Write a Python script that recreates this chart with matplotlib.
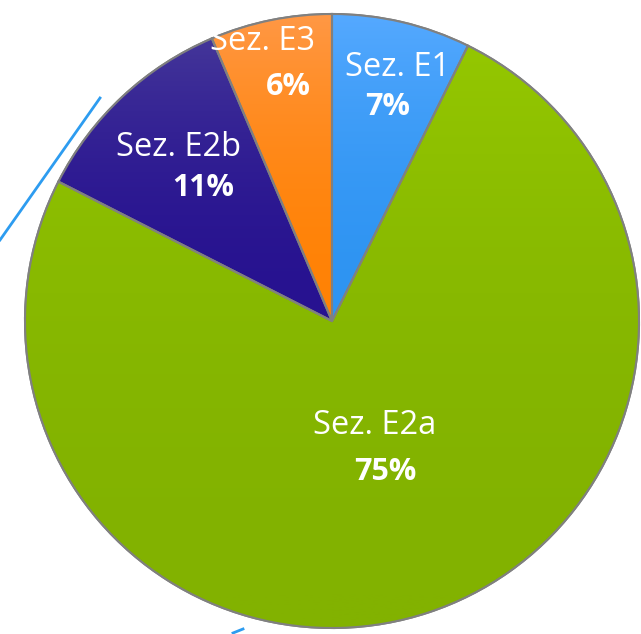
import matplotlib.pyplot as plt
import matplotlib.patches as patches
import numpy as np
from matplotlib.colors import LinearSegmentedColormap

# Anteile in Prozent (im Uhrzeigersinn ab 12 Uhr)
labels = ["Sez. E1", "Sez. E2a", "Sez. E2b", "Sez. E3"]
shares = [7.3, 75.2, 11.1, 6.4]
pct_text = ["7%", "75%", "11%", "6%"]

# Farbverlauf je Segment: oben -> unten
grad_top = ["#55a9ff", "#94c700", "#443699", "#ff9845"]
grad_bottom = ["#2e94f2", "#82b200", "#271290", "#ff8205"]

# Label-Positionen in Pixel (x, y von oben)
name_pos = [(398, 67), (375, 425), (178, 148), (263, 42)]
pct_pos = [(388, 107), (385, 472), (203, 188), (288, 87)]

W, H = 641, 634
fig = plt.figure(figsize=(W / 100, H / 100), dpi=100)
ax = fig.add_axes([0, 0, 1, 1])

cx, cy, r = 332, H - 321, 307

wedges, _ = ax.pie(shares, startangle=90, counterclock=False, center=(cx, cy), radius=r,
                   colors=grad_bottom, wedgeprops=dict(edgecolor='#808080', linewidth=1.5))
ax.set_aspect('equal')

# Verlauf per imshow, je Segment ueber dessen Ausdehnung, auf Segment geclippt
grad = np.linspace(0, 1, 256) ** 2
grad = grad.reshape(-1, 1)
for w, c1, c2 in zip(wedges, grad_top, grad_bottom):
	cmap = LinearSegmentedColormap.from_list("g", [c2, c1])
	verts = w.get_path().vertices
	x0, y0 = verts.min(axis=0)
	x1, y1 = verts.max(axis=0)
	im = ax.imshow(grad, cmap=cmap, origin='lower', aspect='auto',
				   extent=(x0, x1, y0, y1), zorder=w.get_zorder() + 0.1)
	im.set_clip_path(w)
	edge = patches.PathPatch(w.get_path(), transform=w.get_transform(), fill=False,
							 edgecolor='#808080', linewidth=1.5, zorder=w.get_zorder() + 0.2)
	ax.add_patch(edge)

ax.set_xlim(0, W)
ax.set_ylim(0, H)
ax.axis('off')

fam = ['Open Sans', 'DejaVu Sans']
for (x, y), t in zip(name_pos, labels):
	ax.text(x, H - y, t, ha='center', va='center', color='white', fontsize=23.5, family=fam, zorder=10)
for (x, y), t in zip(pct_pos, pct_text):
	ax.text(x, H - y, t, ha='center', va='center', color='white', fontsize=22, fontweight='bold',
			family=fam, zorder=10)

# Reste der Folie: duenne blaue Linien
ax.plot([100, 0], [H - 98, H - 240], color='#2d9cf0', lw=2)
ax.plot([233, 243], [H - 633, H - 629], color='#2d9cf0', lw=2)

fig.savefig("out.png", dpi=100)
